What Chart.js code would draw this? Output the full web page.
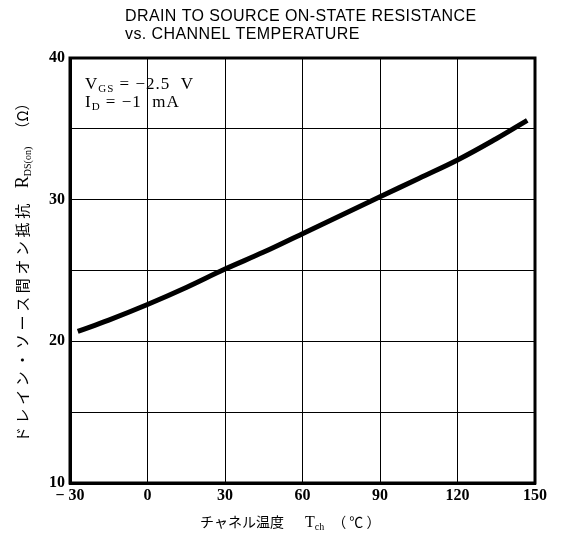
<!DOCTYPE html>
<html>
<head>
<meta charset="utf-8">
<script src="https://cdn.jsdelivr.net/npm/chart.js@4.4.1/dist/chart.umd.min.js"></script>
<style>
  html, body { margin: 0; padding: 0; background: #fff; }
  #wrap { width: 563px; height: 538px; position: relative; }
</style>
</head>
<body>
<div id="wrap"><canvas id="rdsChart" width="563" height="538"></canvas></div>
<script>
// channel temperature (degC) and on-state resistance (ohm)
const temps = [-27, -15, 0, 15, 30, 45, 60, 75, 90, 105, 120, 135, 147];
const rdsOn = [20.7, 21.5, 22.6, 23.8, 25.1, 26.3, 27.6, 28.9, 30.2, 31.5, 32.8, 34.3, 35.6];

const xTicks = [-30, 0, 30, 60, 90, 120, 150];
const yLabels = [10, 20, 30, 40];

const titleLines = ["DRAIN TO SOURCE ON-STATE RESISTANCE", "vs. CHANNEL TEMPERATURE"];

const serif = '"Liberation Serif", "DejaVu Serif", serif';
const jp = '"Noto Sans CJK JP", sans-serif';

// text with a subscript part: [main, sub, rest]
function drawSub(ctx, x, y, parts, size, subSize) {
  ctx.font = size + "px " + serif;
  ctx.fillText(parts[0], x, y);
  x += ctx.measureText(parts[0]).width;
  ctx.font = subSize + "px " + serif;
  ctx.fillText(parts[1], x, y + 3);
  x += ctx.measureText(parts[1]).width;
  ctx.font = size + "px " + serif;
  ctx.fillText(parts[2], x, y);
  return x + ctx.measureText(parts[2]).width;
}

// heavy frame round the plot
const framePlugin = {
  id: "framePlugin",
  afterDatasetsDraw(chart) {
    const { ctx, chartArea: a } = chart;
    ctx.save();
    ctx.strokeStyle = "#000";
    ctx.lineWidth = 3;
    ctx.strokeRect(a.left, a.top, a.right - a.left, a.bottom - a.top);
    ctx.restore();
  }
};

const textPlugin = {
  id: "textPlugin",
  afterDraw(chart) {
    const ctx = chart.ctx;
    ctx.save();
    ctx.fillStyle = "#000";
    ctx.textBaseline = "alphabetic";
    ctx.textAlign = "left";

    // title
    ctx.font = '16px "Liberation Sans", sans-serif';
    ctx.letterSpacing = "0.4px";
    ctx.fillText(titleLines[0], 125, 21);
    ctx.fillText(titleLines[1], 125, 39);

    // conditions
    ctx.letterSpacing = "1px";
    drawSub(ctx, 85, 89, ["V", "GS", " = \u22122.5  V"], 17, 11);
    drawSub(ctx, 85, 107, ["I", "D", " = \u22121  mA"], 17, 11);

    // x axis title
    ctx.letterSpacing = "0px";
    ctx.font = "14px " + jp;
    ctx.fillText("チャネル温度", 200, 527);
    let cx = drawSub(ctx, 305, 527, ["T", "ch", ""], 16, 10);
    ctx.font = "14px " + jp;
    ctx.fillText("（ ℃ ）", cx + 8, 527);

    // y axis title
    ctx.translate(28, 442);
    ctx.rotate(-Math.PI / 2);
    ctx.font = "15px " + jp;
    ctx.letterSpacing = "3.6px";
    ctx.fillText("ドレイン・ソース間オン抵抗", 0, 0);
    let w = ctx.measureText("ドレイン・ソース間オン抵抗").width + 12;
    ctx.letterSpacing = "0px";
    w = drawSub(ctx, w, 0, ["R", "DS(on)", ""], 18, 10);
    ctx.font = "15px " + jp;
    ctx.fillText("（Ω）", w + 10, 0);
    ctx.restore();
  }
};

new Chart(document.getElementById("rdsChart"), {
  type: "line",
  data: {
    datasets: [{
      data: temps.map((t, i) => ({ x: t, y: rdsOn[i] })),
      borderColor: "#000",
      borderWidth: 5,
      pointRadius: 0,
      tension: 0.4,
      fill: false
    }]
  },
  options: {
    responsive: false,
    animation: false,
    layout: { padding: { top: 58, right: 28, left: 0, bottom: 0 } },
    plugins: { legend: { display: false }, tooltip: { enabled: false } },
    scales: {
      x: {
        type: "linear",
        min: -30,
        max: 150,
        afterBuildTicks: s => { s.ticks = xTicks.map(v => ({ value: v })); },
        afterFit: s => { s.height = 55; },
        grid: { color: "#000", lineWidth: 1, drawTicks: false },
        border: { color: "#000", width: 3 },
        ticks: {
          padding: 3,
          color: "#000",
          font: { family: serif, size: 16, weight: "bold" },
          callback: v => v < 0 ? "\u2212 " + (-v) : String(v)
        }
      },
      y: {
        min: 10,
        max: 40,
        ticks: {
          stepSize: 5,
          padding: 5,
          color: "#000",
          font: { family: serif, size: 16, weight: "bold" },
          callback: v => yLabels.includes(v) ? String(v) : ""
        },
        afterFit: s => { s.width = 70; },
        grid: { color: "#000", lineWidth: 1, drawTicks: false },
        border: { color: "#000", width: 3 }
      }
    }
  },
  plugins: [framePlugin, textPlugin]
});
</script>
</body>
</html>
